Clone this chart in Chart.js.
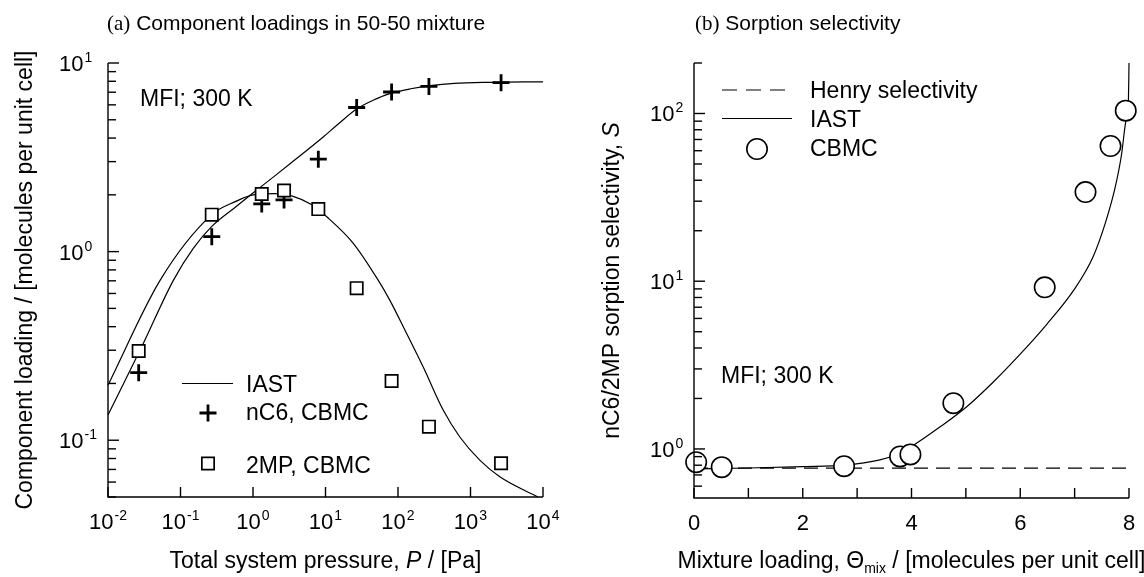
<!DOCTYPE html>
<html>
<head>
<meta charset="utf-8">
<script src="https://cdn.jsdelivr.net/npm/chart.js@4.4.0/dist/chart.umd.min.js"></script>
<style>
  html, body { margin: 0; padding: 0; background: #fff; }
  #wrap { position: relative; width: 1144px; height: 577px; overflow: hidden; }
  canvas { position: absolute; top: 0; }
  #chartA { left: 0; }
  #chartB { left: 572px; }
</style>
</head>
<body>
<div id="wrap">
  <canvas id="chartA" width="572" height="577"></canvas>
  <canvas id="chartB" width="572" height="577"></canvas>
</div>
<script>
// (a) component loadings vs total pressure, Pa
const pressureCbmc = [0.0265, 0.27, 1.32, 2.68, 7.96, 26.9, 81.6, 267, 2640];
const nc6Cbmc = [0.228, 1.20, 1.79, 1.88, 3.09, 5.81, 7.02, 7.51, 7.86];
const mp2Cbmc = [0.297, 1.57, 2.02, 2.11, 1.68, 0.64, 0.206, 0.118, 0.0755];

const nc6IastP = [0.01, 0.03, 0.08, 0.15, 0.27, 0.57, 0.96, 2.0, 3.24, 9.3, 15, 26.9, 50, 77, 150, 275, 600, 1840, 10000];
const nc6Iast = [0.136, 0.32, 0.706, 1.04, 1.36, 1.72, 2.02, 2.52, 2.92, 4.05, 4.75, 5.7, 6.45, 6.88, 7.3, 7.58, 7.8, 7.9, 7.95];

const mp2IastP = [0.01, 0.0525, 0.27, 0.57, 1.0, 2.0, 3.5, 6.5, 10.4, 24, 53, 77, 131, 222, 420, 713, 1343, 2535, 8500];
const mp2Iast = [0.196, 0.706, 1.57, 1.84, 2.0, 2.03, 1.97, 1.77, 1.53, 1.11, 0.708, 0.553, 0.369, 0.245, 0.1445, 0.104, 0.0784, 0.064, 0.05];

const pressureTicks = [0.01, 0.1, 1, 10, 100, 1000, 10000];
const loadingTicksA = [0.1, 1, 10];

// (b) sorption selectivity vs mixture loading
const loadingCbmc = [0.04, 0.51, 2.76, 3.79, 3.98, 4.77, 6.45, 7.20, 7.66, 7.94];
const selCbmc = [0.834, 0.779, 0.789, 0.902, 0.927, 1.875, 9.2, 34, 64, 104];

const loadingIast = [0, 1, 2, 2.76, 3.42, 3.7, 4.03, 4.52, 5.01, 5.50, 5.99, 6.48, 7.0, 7.34, 7.57, 7.74, 7.86, 7.94, 7.99, 8.0];
const selIast = [0.76, 0.77, 0.785, 0.80, 0.86, 0.92, 1.05, 1.35, 1.78, 2.5, 3.65, 5.5, 9.0, 14.0, 22.5, 35.6, 56.2, 89, 122, 200];

const henryLoading = [0, 8];
const henrySel = [0.768, 0.768];

const loadingTicks = [0, 2, 4, 6, 8];
const loadingMinor = [0, 1, 2, 3, 4, 5, 6, 7, 8];
const selTicks = [1, 10, 100];

const SANS = '"Liberation Sans", Arial, sans-serif';
const SERIF = '"Liberation Serif", "Times New Roman", serif';
function f(size, style) { return (style ? style + ' ' : '') + size + 'px ' + SANS; }

function pts(xs, ys) { return xs.map((v, i) => ({ x: v, y: ys[i] })); }

// "10" with a raised exponent
function drawPow(ctx, exp, x, y, align) {
  ctx.font = f(22);
  const wb = ctx.measureText('10').width;
  ctx.font = f(14);
  const we = ctx.measureText(exp).width;
  let x0 = align === 'center' ? x - (wb + we + 1) / 2 : x;
  ctx.textAlign = 'left';
  ctx.textBaseline = 'alphabetic';
  ctx.font = f(22);
  ctx.fillText('10', x0, y);
  ctx.font = f(14);
  ctx.fillText(exp, x0 + wb + 1, y - 9);
}

// text made of pieces with different fonts, centred or left aligned
function drawRuns(ctx, runs, x, y, align) {
  let w = 0;
  runs.forEach(r => { ctx.font = r.font; w += ctx.measureText(r.t).width; });
  let cx = align === 'center' ? x - w / 2 : x;
  ctx.textAlign = 'left';
  ctx.textBaseline = 'alphabetic';
  runs.forEach(r => {
    ctx.font = r.font;
    ctx.fillText(r.t, cx, y + (r.dy || 0));
    cx += ctx.measureText(r.t).width;
  });
}

function logTicks(ctx, scale, vertical, a, majLen, minLen) {
  const lo = Math.floor(Math.log10(scale.min));
  const hi = Math.ceil(Math.log10(scale.max));
  for (let d = lo; d <= hi; d++) {
    for (let m = 1; m <= 9; m++) {
      const v = m * Math.pow(10, d);
      if (v < scale.min * 0.999 || v > scale.max * 1.001) continue;
      const p = scale.getPixelForValue(v);
      const len = m === 1 ? majLen : minLen;
      if (!len) continue;
      ctx.beginPath();
      if (vertical) { ctx.moveTo(a.left, p); ctx.lineTo(a.left + len, p); }
      else { ctx.moveTo(p, a.bottom); ctx.lineTo(p, a.bottom - len); }
      ctx.stroke();
    }
  }
}

function frame(ctx, a) {
  ctx.beginPath();
  ctx.moveTo(a.left, a.top);
  ctx.lineTo(a.left, a.bottom);
  ctx.lineTo(a.right, a.bottom);
  ctx.stroke();
}

const panelA = {
  id: 'panelA',
  afterDraw(chart) {
    const { ctx, chartArea: a, scales: { x, y } } = chart;
    ctx.save();
    ctx.strokeStyle = '#000';
    ctx.fillStyle = '#000';
    ctx.lineWidth = 1.4;
    frame(ctx, a);
    logTicks(ctx, y, true, a, 11, 8);
    logTicks(ctx, x, false, a, 10, 0);

    pressureTicks.forEach(v => {
      drawPow(ctx, String(Math.round(Math.log10(v))), x.getPixelForValue(v), 529, 'center');
    });
    loadingTicksA.forEach(v => {
      drawPow(ctx, String(Math.round(Math.log10(v))), 59, y.getPixelForValue(v) + 8, 'left');
    });

    // title
    drawRuns(ctx, [
      { t: '(a)', font: '21px ' + SERIF },
      { t: ' Component loadings in 50-50 mixture', font: f(21) }
    ], 107, 30, 'left');

    // axis titles
    drawRuns(ctx, [
      { t: 'Total system pressure, ', font: f(23) },
      { t: 'P', font: f(23, 'italic') },
      { t: ' / [Pa]', font: f(23) }
    ], (a.left + a.right) / 2, 568, 'center');
    ctx.save();
    ctx.translate(32, (a.top + a.bottom) / 2);
    ctx.rotate(-Math.PI / 2);
    drawRuns(ctx, [{ t: 'Component loading / [molecules per unit cell]', font: f(23) }], 0, 0, 'center');
    ctx.restore();

    drawRuns(ctx, [{ t: 'MFI; 300 K', font: f(23) }], 140, 105.5, 'left');

    // legend
    ctx.lineWidth = 1.2;
    ctx.beginPath();
    ctx.moveTo(182, 383.5);
    ctx.lineTo(233, 383.5);
    ctx.stroke();
    ctx.lineWidth = 2.8;
    Chart.helpers.drawPoint(ctx, { pointStyle: 'cross', radius: 8.5, borderWidth: 2.8 }, 208, 413);
    ctx.lineWidth = 1.7;
    ctx.fillStyle = '#fff';
    Chart.helpers.drawPoint(ctx, { pointStyle: 'rect', radius: 8.7, borderWidth: 1.7 }, 208, 463.5);
    ctx.fillStyle = '#000';
    drawRuns(ctx, [{ t: 'IAST', font: f(23) }], 246, 391.5, 'left');
    drawRuns(ctx, [{ t: 'nC6, CBMC', font: f(23) }], 246, 420, 'left');
    drawRuns(ctx, [{ t: '2MP, CBMC', font: f(23) }], 246, 472.5, 'left');
    ctx.restore();
  }
};

const panelB = {
  id: 'panelB',
  afterDraw(chart) {
    const { ctx, chartArea: a, scales: { x, y } } = chart;
    ctx.save();
    ctx.strokeStyle = '#000';
    ctx.fillStyle = '#000';
    ctx.lineWidth = 1.4;
    frame(ctx, a);
    logTicks(ctx, y, true, a, 11, 8);
    loadingMinor.forEach(v => {
      const p = x.getPixelForValue(v);
      ctx.beginPath();
      ctx.moveTo(p, a.bottom);
      ctx.lineTo(p, a.bottom - 10);
      ctx.stroke();
    });

    ctx.textAlign = 'center';
    ctx.textBaseline = 'alphabetic';
    ctx.font = f(22);
    loadingTicks.forEach(v => ctx.fillText(String(v), x.getPixelForValue(v), 530));
    selTicks.forEach(v => {
      drawPow(ctx, String(Math.round(Math.log10(v))), 78, y.getPixelForValue(v) + 8, 'left');
    });

    drawRuns(ctx, [
      { t: '(b)', font: '21px ' + SERIF },
      { t: ' Sorption selectivity', font: f(21) }
    ], 123, 30, 'left');

    drawRuns(ctx, [
      { t: 'Mixture loading, \u0398', font: f(23) },
      { t: 'mix', font: f(14), dy: 5 },
      { t: ' / [molecules per unit cell]', font: f(23) }
    ], (a.left + a.right) / 2, 568, 'center');
    ctx.save();
    ctx.translate(47, (a.top + a.bottom) / 2);
    ctx.rotate(-Math.PI / 2);
    drawRuns(ctx, [
      { t: 'nC6/2MP sorption selectivity, ', font: f(23) },
      { t: 'S', font: f(23, 'italic') }
    ], 0, 0, 'center');
    ctx.restore();

    drawRuns(ctx, [{ t: 'MFI; 300 K', font: f(23) }], 149, 383, 'left');

    // legend
    ctx.lineWidth = 1.2;
    ctx.setLineDash([15, 9]);
    ctx.beginPath();
    ctx.moveTo(150, 90);
    ctx.lineTo(216, 90);
    ctx.stroke();
    ctx.setLineDash([]);
    ctx.beginPath();
    ctx.moveTo(150, 118.5);
    ctx.lineTo(220, 118.5);
    ctx.stroke();
    ctx.lineWidth = 1.6;
    ctx.fillStyle = '#fff';
    Chart.helpers.drawPoint(ctx, { pointStyle: 'circle', radius: 10.2, borderWidth: 1.6 }, 185, 149);
    ctx.fillStyle = '#000';
    drawRuns(ctx, [{ t: 'Henry selectivity', font: f(23) }], 238, 98, 'left');
    drawRuns(ctx, [{ t: 'IAST', font: f(23) }], 238, 127, 'left');
    drawRuns(ctx, [{ t: 'CBMC', font: f(23) }], 238, 156, 'left');
    ctx.restore();
  }
};

const baseOptions = (padding, scales) => ({
  responsive: false,
  animation: false,
  devicePixelRatio: 1,
  layout: { padding },
  plugins: { legend: { display: false }, tooltip: { enabled: false } },
  scales
});

const lineStyle = {
  showLine: true,
  pointRadius: 0,
  borderColor: '#000',
  borderWidth: 1.2,
  cubicInterpolationMode: 'monotone',
  fill: false,
  clip: false
};

new Chart(document.getElementById('chartA'), {
  type: 'scatter',
  data: {
    datasets: [
      {
        label: '2MP, CBMC', data: pts(pressureCbmc, mp2Cbmc),
        pointStyle: 'rect', pointRadius: 8.7, borderWidth: 1.7,
        borderColor: '#000', backgroundColor: '#fff', order: 0, clip: false
      },
      {
        label: 'nC6, CBMC', data: pts(pressureCbmc, nc6Cbmc),
        pointStyle: 'cross', pointRadius: 8.5, borderWidth: 2.8,
        borderColor: '#000', backgroundColor: '#000', order: 1, clip: false
      },
      Object.assign({ label: 'IAST nC6', data: pts(nc6IastP, nc6Iast), order: 2 }, lineStyle),
      Object.assign({ label: 'IAST 2MP', data: pts(mp2IastP, mp2Iast), order: 2 }, lineStyle)
    ]
  },
  options: baseOptions({ left: 108, right: 29, top: 63, bottom: 80 }, {
    x: { type: 'logarithmic', min: 0.01, max: 10000, display: false },
    y: { type: 'logarithmic', min: 0.05, max: 10, display: false }
  }),
  plugins: [panelA]
});

new Chart(document.getElementById('chartB'), {
  type: 'scatter',
  data: {
    datasets: [
      {
        label: 'CBMC', data: pts(loadingCbmc, selCbmc),
        pointStyle: 'circle', pointRadius: 10.2, borderWidth: 1.6,
        borderColor: '#000', backgroundColor: '#fff', order: 0, clip: false
      },
      Object.assign({ label: 'IAST', data: pts(loadingIast, selIast), order: 1 }, lineStyle),
      Object.assign({ label: 'Henry selectivity', data: pts(henryLoading, henrySel), order: 2 },
        lineStyle, { borderDash: [14, 8], cubicInterpolationMode: 'default', tension: 0 })
    ]
  },
  options: baseOptions({ left: 122, right: 15, top: 63, bottom: 79 }, {
    x: { type: 'linear', min: 0, max: 8, display: false },
    y: { type: 'logarithmic', min: 0.51, max: 200, display: false }
  }),
  plugins: [panelB]
});
</script>
</body>
</html>
